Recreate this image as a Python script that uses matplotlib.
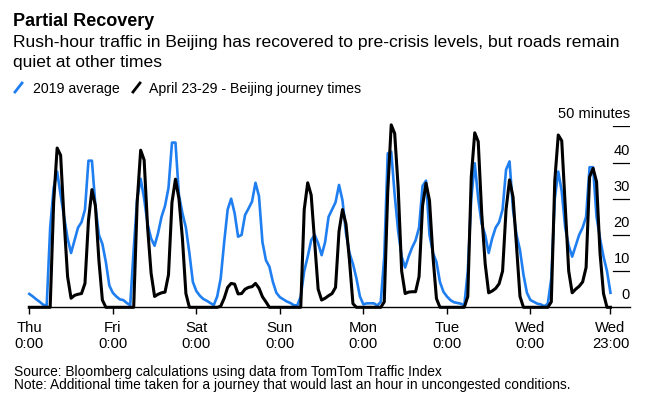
import numpy as np
import matplotlib
matplotlib.use("Agg")
import matplotlib.pyplot as plt
from matplotlib.lines import Line2D

# --- DATA (extra minutes per hour of driving, hourly, Thu 0:00 -> Wed 23:00) ---
thu_avg = [3.7, 3.0, 2.2, 1.5, 0.7, 0.5, 22, 33, 37.5, 31, 25, 19, 15, 18.5, 22, 23.5, 27, 40.5, 40.5, 28, 20, 17.5, 12.5, 6]
fri_avg = [4, 3, 2.2, 2, 1.2, 0.6, 16, 30, 35.5, 30, 23, 19, 17, 20.5, 25, 28, 33, 45.5, 45.5, 31, 26, 22, 15, 7]
sat_avg = [4.5, 3.2, 2.3, 1.8, 1.2, 0.6, 3, 8, 18, 27, 30, 26, 19.5, 20, 25.5, 27.3, 29.2, 34.4, 30.7, 18, 13, 11.2, 7, 4]
sun_avg = [2.8, 2.2, 1.6, 1.2, 0.6, 0.5, 3, 10, 14, 18.5, 20, 17.7, 14.4, 18, 25, 27, 29, 33.8, 29.5, 20.5, 15, 12, 8, 3]
mon_avg = [0.8, 1.1, 1.1, 1.1, 0.5, 1.5, 14, 42.5, 43, 31, 21, 14, 11, 14, 16.5, 18.5, 22, 33.5, 35, 20, 15, 12.5, 7, 4.3]
tue_avg = [3, 2, 1.4, 1.2, 1, 0.5, 10, 30, 39.8, 30, 23, 20, 15, 19, 22, 23.5, 27, 38, 40.3, 27, 20, 15.8, 9, 4]
wed_avg = [2, 1.5, 1, 0.8, 0.3, 1, 8, 30, 37.5, 32, 22, 17, 14, 17, 20, 22, 25, 38.7, 38.7, 25, 19, 14, 10, 4]

thu_2020 = [0, 0, 0, 0, 0, 0, 0, 29, 44, 42, 24, 8.5, 2.5, 3.3, 3.6, 3.8, 6.6, 24, 32.5, 28, 13, 2, 0, 0]
fri_2020 = [0, 0, 0, 0, 0, 0, 0, 29, 43.4, 40.7, 22, 9.4, 3, 3.6, 4, 4.2, 9, 29, 35.4, 30, 19, 3.8, 0, 0]
sat_2020 = [0, 0, 0, 0, 0, 0, 0, 0.3, 2.5, 5.5, 6.6, 6.4, 3.7, 3.8, 5, 5.5, 5.7, 6.6, 5.3, 2.9, 1.5, 0, 0, 0]
sun_2020 = [0, 0, 0, 0, 0, 0, 0, 27, 34.4, 31, 18, 5, 2, 2.5, 3.2, 3.8, 5.5, 21, 27, 23, 13, 1, 0, 0]
mon_2020 = [0, 0, 0, 0, 0, 0, 1.5, 32, 50.4, 48, 33, 10, 3.8, 4.2, 4.3, 4.3, 8.5, 28, 34.3, 29.5, 14, 2.4, 0, 0]
tue_2020 = [0, 0, 0, 0, 0, 0, 3, 36, 48.2, 45.8, 26, 12, 4, 4.5, 5.2, 6.5, 10, 27, 35.2, 30.5, 17, 3, 0, 0]
wed_2020 = [0, 0, 0, 0, 0, 0, 1.5, 35, 47.6, 46, 28, 10, 4, 5, 5.8, 7, 11, 36, 38.4, 34.7, 15, 3.8, 0, 0]

days = ["Thu", "Fri", "Sat", "Sun", "Mon", "Tue", "Wed"]
y_ticks = [0, 10, 20, 30, 40, 50]
y_labels = ["0", "10", "20", "30", "40", "50 minutes"]

# --- STYLE ---
W, H = 646, 397
BLUE = "#1f7ff0"
FONT = "Liberation Sans"
plt.rcParams["font.family"] = FONT

avg_2019 = np.array(thu_avg + fri_avg + sat_avg + sun_avg + mon_avg + tue_avg + wed_avg)
week_2020 = np.array(thu_2020 + fri_2020 + sat_2020 + sun_2020 + mon_2020 + tue_2020 + wed_2020)
hours = np.arange(len(avg_2019))


def fx(x):
    return x / W


def fy(y):
    return 1 - y / H


fig = plt.figure(figsize=(W / 100, H / 100), dpi=100)

# axes spans pixel x 29.3 -> 630, y 126.3 (50) -> 307.3 (0)
px_per_hour = 3.48
x_end = (630 - 29.3) / px_per_hour
ax = fig.add_axes([fx(29.3), fy(307.3), fx(630 - 29.3), (307.3 - 126.3) / H])
ax.set_xlim(0, x_end)
ax.set_ylim(0, 50)

ax.plot(hours, avg_2019, color=BLUE, linewidth=1.9, clip_on=False, zorder=3)
ax.plot(hours, week_2020, color="black", linewidth=2.2, clip_on=False, zorder=4)

for s in ["top", "right", "left"]:
    ax.spines[s].set_visible(False)
ax.spines["bottom"].set_linewidth(1.0)
ax.spines["bottom"].set_color("black")

# short gridlines on the right with labels above them
grid_start = (612.7 - 29.3) / (630 - 29.3)
for v, lab in zip(y_ticks, y_labels):
    if v > 0:
        ax.axhline(v, xmin=grid_start, xmax=1, color="black", linewidth=0.9)
    ax.text(x_end, v + 8 / 3.62, lab, ha="right", va="baseline", fontsize=10.5)
ax.set_yticks([])

tick_pos = [24 * i for i in range(len(days))] + [hours[-1]]
tick_lab = [d + "\n0:00" for d in days] + [days[-1] + "\n23:00"]
ax.set_xticks(tick_pos, tick_lab)
ax.tick_params(axis="x", length=5, width=1, color="black", pad=5, labelsize=10.7)
for t in ax.get_xticklabels():
    t.set_linespacing(1.12)

# --- HEADER ---
fig.text(fx(13), fy(26), "Partial Recovery", fontsize=13, fontweight="bold", va="baseline")
fig.text(fx(13), fy(46.7), "Rush-hour traffic in Beijing has recovered to pre-crisis levels, but roads remain",
         fontsize=12.6, va="baseline")
fig.text(fx(13), fy(66.7), "quiet at other times", fontsize=12.6, va="baseline")

# legend
fig.add_artist(Line2D([fx(15), fx(22)], [fy(92), fy(83)], color=BLUE, linewidth=2))
fig.text(fx(33), fy(92.7), "2019 average", fontsize=10.2, va="baseline")
fig.add_artist(Line2D([fx(133), fx(140)], [fy(92), fy(83)], color="black", linewidth=2))
fig.text(fx(149), fy(92.7), "April 23-29 - Beijing journey times", fontsize=10.2, va="baseline")

# --- FOOTER ---
fig.text(fx(14), fy(376), "Source: Bloomberg calculations using data from TomTom Traffic Index",
         fontsize=9.9, va="baseline")
fig.text(fx(14), fy(389.3), "Note: Additional time taken for a journey that would last an hour in uncongested conditions.",
         fontsize=9.9, va="baseline")

fig.savefig("out.png", dpi=100)
